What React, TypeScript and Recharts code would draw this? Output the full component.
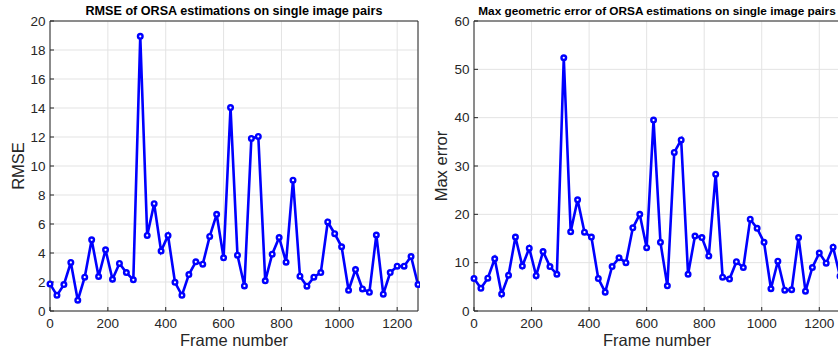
import React from "react";
import { LineChart, Line, XAxis, YAxis, CartesianGrid } from "recharts";

// frame numbers (one sample every 24 frames)
const frames = [
  0, 24, 48, 72, 96, 120, 144, 168, 192, 216, 240, 264, 288, 312, 336, 360, 384, 408,
  432, 456, 480, 504, 528, 552, 576, 600, 624, 648, 672, 696, 720, 744, 768, 792, 816, 840,
  864, 888, 912, 936, 960, 984, 1008, 1032, 1056, 1080, 1104, 1128, 1152, 1176, 1200, 1224, 1248, 1272,
];

const rmseValues = [
  1.87, 1.08, 1.82, 3.35, 0.74, 2.33, 4.91, 2.38, 4.22, 2.19, 3.28, 2.65, 2.15, 18.94, 5.21, 7.4, 4.13, 5.21,
  1.98, 1.08, 2.51, 3.39, 3.23, 5.14, 6.67, 3.67, 14.03, 3.85, 1.73, 11.9, 12.04, 2.08, 3.92, 5.07, 3.37, 9.02,
  2.4, 1.71, 2.33, 2.65, 6.14, 5.33, 4.43, 1.43, 2.86, 1.52, 1.29, 5.24, 1.16, 2.65, 3.09, 3.09, 3.76, 1.82,
];

const maxErrorValues = [
  6.7, 4.7, 6.8, 10.8, 3.5, 7.4, 15.3, 9.3, 13.0, 7.3, 12.3, 9.2, 7.6, 52.4, 16.4, 23.0, 16.3, 15.3,
  6.7, 3.9, 9.2, 11.0, 10.0, 17.2, 20.0, 13.1, 39.5, 14.2, 5.2, 32.8, 35.4, 7.6, 15.5, 15.2, 11.4, 28.3,
  7.0, 6.6, 10.2, 9.0, 19.0, 17.1, 14.2, 4.6, 10.3, 4.3, 4.4, 15.2, 4.1, 9.0, 12.0, 9.9, 13.2, 7.2,
];

const frameTicks = [0, 200, 400, 600, 800, 1000, 1200];
const rmseTicks = [0, 2, 4, 6, 8, 10, 12, 14, 16, 18, 20];
const maxErrorTicks = [0, 10, 20, 30, 40, 50, 60];

const FONT = '"Liberation Sans", Arial, Helvetica, sans-serif';
const AXIS = "#262626";
const GRID = "#e3e3e3";
const BLUE = "#0000ff";

const rmseData = frames.map((frame, i) => ({ frame, value: rmseValues[i] }));
const maxErrorData = frames.map((frame, i) => ({ frame, value: maxErrorValues[i] }));

const Panel = ({ data, yTicks, yMax, title, titleSize, yLabel, yAxisWidth, yLabelX, width }) => (
  <LineChart width={width} height={352} data={data} margin={{ top: 20, right: 1, bottom: 0, left: 0 }}>
    <CartesianGrid stroke={GRID} strokeWidth={1} />
    <XAxis
      dataKey="frame"
      type="number"
      domain={[0, 1272]}
      ticks={frameTicks}
      interval={0}
      height={41}
      tickSize={-4}
      tickMargin={11}
      stroke={AXIS}
      tick={{ fill: AXIS, fontSize: 13.5, fontFamily: FONT }}
      label={(props) => {
        const vb = props.viewBox;
        return (
          <text x={vb.x + vb.width / 2} y={vb.y + 35} textAnchor="middle" fill={AXIS} fontSize={16.5} fontFamily={FONT}>
            Frame number
          </text>
        );
      }}
    />
    <XAxis
      xAxisId="top"
      orientation="top"
      type="number"
      domain={[0, 1272]}
      ticks={frameTicks}
      interval={0}
      height={1}
      tickSize={-4}
      tick={false}
      stroke={AXIS}
      label={(props) => {
        const vb = props.viewBox;
        return (
          <text x={vb.x + vb.width / 2} y={vb.y - 5} textAnchor="middle" fill="#000" fontWeight="bold" fontSize={titleSize} fontFamily={FONT}>
            {title}
          </text>
        );
      }}
    />
    <YAxis
      type="number"
      domain={[0, yMax]}
      ticks={yTicks}
      interval={0}
      width={yAxisWidth}
      tickSize={-4}
      tickMargin={8.5}
      stroke={AXIS}
      tick={{ fill: AXIS, fontSize: 13.5, fontFamily: FONT }}
      label={(props) => {
        const vb = props.viewBox;
        const x = vb.x + yLabelX;
        const y = vb.y + vb.height / 2;
        return (
          <text x={x} y={y} transform={`rotate(-90, ${x}, ${y})`} textAnchor="middle" dominantBaseline="central" fill={AXIS} fontSize={16.5} fontFamily={FONT}>
            {yLabel}
          </text>
        );
      }}
    />
    <YAxis
      yAxisId="right"
      orientation="right"
      type="number"
      domain={[0, yMax]}
      ticks={yTicks}
      interval={0}
      width={1}
      tickSize={-4}
      tick={false}
      stroke={AXIS}
    />
    <Line
      type="linear"
      dataKey="value"
      stroke={BLUE}
      strokeWidth={2.6}
      dot={{ r: 2.3, stroke: BLUE, strokeWidth: 2.4, fill: "#ffffff" }}
      activeDot={false}
      isAnimationActive={false}
    />
  </LineChart>
);

export default function App() {
  return (
    <div style={{ position: "absolute", left: 0, top: 0, width: 838, height: 352, overflow: "hidden", background: "#fff" }}>
      <div style={{ position: "absolute", left: 0, top: 0 }}>
        <Panel
          data={rmseData}
          yTicks={rmseTicks}
          yMax={20}
          title="RMSE of ORSA estimations on single image pairs"
          titleSize={12.6}
          yLabel="RMSE"
          yAxisWidth={50}
          yLabelX={18}
          width={420}
        />
      </div>
      <div style={{ position: "absolute", left: 420, top: 0 }}>
        <Panel
          data={maxErrorData}
          yTicks={maxErrorTicks}
          yMax={60}
          title="Max geometric error of ORSA estimations on single image pairs"
          titleSize={11.8}
          yLabel="Max error"
          yAxisWidth={54}
          yLabelX={21}
          width={422}
        />
      </div>
    </div>
  );
}
